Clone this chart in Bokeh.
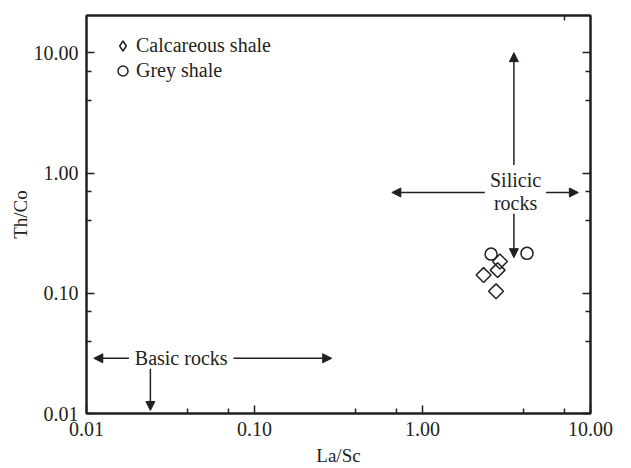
import math
from bokeh.plotting import figure
from bokeh.models import (LogAxis, FixedTicker, PrintfTickFormatter, CustomJSTickFormatter,
                          Arrow, NormalHead, Legend, LegendItem, ColumnDataSource)
from bokeh.core.properties import value
from bokeh.embed import file_html
from bokeh.resources import INLINE

# ---- data ----
series_names = ["Calcareous shale", "Grey shale"]
calc_la_sc = [2.89, 2.80, 2.31, 2.74]
calc_th_co = [0.184, 0.156, 0.142, 0.104]
grey_la_sc = [2.56, 4.19]
grey_th_co = [0.212, 0.215]

x_major_ticks = [0.01, 0.1, 1, 10]
x_minor_ticks = [0.04, 0.07, 0.4, 0.7, 4, 7]
y_major_ticks = [0.01, 0.1, 1, 10]
y_minor_ticks = [0.04, 0.07, 0.4, 0.7, 4, 7]
top_minor_ticks = [7]

# annotation arrows (data coordinates)
arrow_x0 = [3.5, 3.5, 2.35, 5.44, 0.0179, 0.075, 0.024]
arrow_y0 = [1.17, 0.46, 0.69, 0.69, 0.0288, 0.0288, 0.0236]
arrow_x1 = [3.5, 3.5, 0.657, 8.47, 0.01105, 0.288, 0.024]
arrow_y1 = [10.06, 0.198, 0.69, 0.69, 0.0288, 0.0288, 0.0106]

label_text = ["Silicic", "rocks", "Basic rocks"]
label_x = [3.58, 3.58, 0.0366]
label_y = [0.875, 0.56, 0.0288]

INK = "#231f20"
FONT = "Liberation Serif"

p = figure(width=631, height=468, x_axis_type="log", y_axis_type="log",
           x_range=(0.01, 10), y_range=(0.01, 20.5),
           output_backend="svg", toolbar_location=None,
           min_border_left=86, min_border_right=41, min_border_top=15, min_border_bottom=55)
p.xgrid.visible = False
p.ygrid.visible = False
p.outline_line_color = INK
p.outline_line_width = 2
p.background_fill_color = "white"
p.border_fill_color = "white"


def style_axis(ax, major, minor, labels=True):
    ax.ticker = FixedTicker(ticks=major, minor_ticks=minor)
    ax.axis_line_color = INK
    ax.axis_line_width = 2
    ax.major_tick_line_color = INK
    ax.minor_tick_line_color = INK
    ax.major_tick_line_width = 1.5
    ax.minor_tick_line_width = 1.5
    ax.major_tick_in = 8
    ax.major_tick_out = 0
    ax.minor_tick_in = 5
    ax.minor_tick_out = 0
    ax.major_label_text_font = FONT
    ax.major_label_text_color = INK
    ax.major_label_text_font_size = "20px"
    if labels:
        ax.formatter = PrintfTickFormatter(format="%.2f")
    else:
        ax.formatter = CustomJSTickFormatter(code="return ''")
        ax.major_label_standoff = 0


xa = p.xaxis[0]
ya = p.yaxis[0]
style_axis(xa, x_major_ticks, x_minor_ticks)
style_axis(ya, y_major_ticks, y_minor_ticks)
xa.major_label_standoff = 8
ya.major_label_standoff = 8
xa.axis_label = "La/Sc"
ya.axis_label = "Th/Co"
for ax in (xa, ya):
    ax.axis_label_text_font = FONT
    ax.axis_label_text_font_size = "19px"
    ax.axis_label_text_font_style = "normal"
    ax.axis_label_text_color = INK
xa.axis_label_standoff = 6
ya.axis_label_standoff = 0

ra = LogAxis()
style_axis(ra, y_major_ticks, y_minor_ticks, labels=False)
p.add_layout(ra, "right")
ta = LogAxis()
style_axis(ta, [], top_minor_ticks, labels=False)
p.add_layout(ta, "above")

r1 = p.scatter(calc_la_sc, calc_th_co, marker="square", angle=math.pi / 4, size=10.5,
               fill_color=None, line_color=INK, line_width=1.5)
r2 = p.scatter(grey_la_sc, grey_th_co, marker="circle", size=12,
               fill_color=None, line_color=INK, line_width=1.5)
# legend key for the diamonds: legend markers are drawn unrotated, so use a diamond
# marker that is zero-sized on the plot itself
r1_key = p.scatter(calc_la_sc, calc_th_co, marker="diamond", size=0,
                   fill_color=None, line_color=INK, line_width=1.5)

arrow_src = ColumnDataSource(dict(x0=arrow_x0, y0=arrow_y0, x1=arrow_x1, y1=arrow_y1))
p.add_layout(Arrow(end=NormalHead(size=9, fill_color=INK, line_color=INK, line_width=1),
                   x_start="x0", y_start="y0", x_end="x1", y_end="y1",
                   line_color=INK, line_width=1.5, source=arrow_src))

p.text(x=label_x, y=label_y, text=label_text, text_font=value(FONT),
       text_font_size="20px", text_align="center", text_baseline="middle", text_color=INK)

legend = Legend(items=[LegendItem(label=series_names[0], renderers=[r1_key]),
                       LegendItem(label=series_names[1], renderers=[r2])],
                location=(24, 330), border_line_color=None, background_fill_alpha=0,
                label_text_font=FONT, label_text_font_size="20px", label_text_color=INK,
                glyph_width=25, glyph_height=25, spacing=0, padding=0, margin=0,
                label_standoff=1)
p.add_layout(legend)

open("out.html", "w").write(file_html(p, INLINE))
